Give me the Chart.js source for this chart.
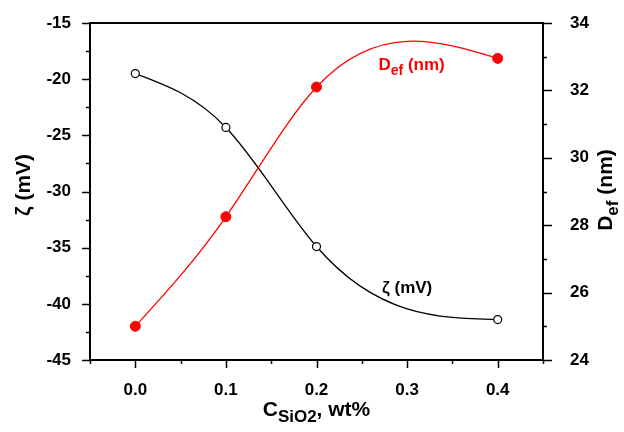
<!DOCTYPE html>
<html>
<head>
<meta charset="utf-8">
<script src="https://cdn.jsdelivr.net/npm/chart.js@4.4.1/dist/chart.umd.min.js"></script>
<style>
  html, body { margin: 0; padding: 0; background: #fff; }
  #wrap { width: 624px; height: 432px; }
</style>
</head>
<body>
<div id="wrap"><canvas id="zetaChart" width="624" height="432"></canvas></div>
<script>
// data
const conc = [0.0, 0.1, 0.2, 0.4];           // C_SiO2, wt%
const zeta = [-19.5, -24.3, -34.9, -41.4];   // zeta potential, mV
const dEf = [25.0, 28.25, 32.1, 32.95];      // effective diameter, nm

const FONT = "'Liberation Sans', Arial, sans-serif";

// draw text with subscripts: parts = [[text, isSub], ...]
function drawParts(ctx, parts, x, y, size, align) {
  const subSize = Math.round(size * 0.82);
  let total = 0;
  parts.forEach(([t, sub]) => {
    ctx.font = "bold " + (sub ? subSize : size) + "px " + FONT;
    total += ctx.measureText(t).width;
  });
  let cx = align === "center" ? x - total / 2 : x;
  ctx.textAlign = "left";
  ctx.textBaseline = "alphabetic";
  parts.forEach(([t, sub]) => {
    ctx.font = "bold " + (sub ? subSize : size) + "px " + FONT;
    ctx.fillText(t, cx, sub ? y + size * 0.28 : y);
    cx += ctx.measureText(t).width;
  });
}

// natural cubic spline through the dataset's points (pixel space, same as data space up to a linear map)
function splinePath(ctx, pts) {
  const n = pts.length - 1;
  const h = [], m = new Array(n + 1).fill(0);
  for (let i = 0; i < n; i++) h.push(pts[i + 1].x - pts[i].x);
  const a = [], b = [], c = [], r = [];
  for (let i = 1; i < n; i++) {
    a.push(h[i - 1]);
    b.push(2 * (h[i - 1] + h[i]));
    c.push(h[i]);
    r.push(6 * ((pts[i + 1].y - pts[i].y) / h[i] - (pts[i].y - pts[i - 1].y) / h[i - 1]));
  }
  // Thomas algorithm
  for (let i = 1; i < b.length; i++) {
    const w = a[i] / b[i - 1];
    b[i] -= w * c[i - 1];
    r[i] -= w * r[i - 1];
  }
  for (let i = b.length - 1; i >= 0; i--) {
    m[i + 1] = (r[i] - (i < b.length - 1 ? c[i] * m[i + 2] : 0)) / b[i];
  }
  ctx.moveTo(pts[0].x, pts[0].y);
  for (let i = 0; i < n; i++) {
    const s = (pts[i + 1].y - pts[i].y) / h[i];
    const d0 = s - h[i] * (2 * m[i] + m[i + 1]) / 6;
    const d1 = s + h[i] * (m[i] + 2 * m[i + 1]) / 6;
    ctx.bezierCurveTo(
      pts[i].x + h[i] / 3, pts[i].y + d0 * h[i] / 3,
      pts[i + 1].x - h[i] / 3, pts[i + 1].y - d1 * h[i] / 3,
      pts[i + 1].x, pts[i + 1].y);
  }
}

const splinePlugin = {
  id: "spline",
  beforeDatasetsDraw(chart) {
    const ctx = chart.ctx;
    ctx.save();
    chart.data.datasets.forEach((ds, i) => {
      const pts = chart.getDatasetMeta(i).data.map(p => ({ x: p.x, y: p.y }));
      ctx.beginPath();
      splinePath(ctx, pts);
      ctx.strokeStyle = ds.borderColor;
      ctx.lineWidth = 1.3;
      ctx.stroke();
    });
    ctx.restore();
  }
};

// tick marks, top frame line, titles and in-plot labels
const decorPlugin = {
  id: "decor",
  afterDraw(chart) {
    const ctx = chart.ctx;
    const a = chart.chartArea;
    const sx = chart.scales.x, sl = chart.scales.yL, sr = chart.scales.yR;
    ctx.save();
    ctx.strokeStyle = "#000";
    ctx.lineWidth = 2;
    ctx.beginPath();
    ctx.moveTo(a.left - 1, a.top);
    ctx.lineTo(a.right + 1, a.top);
    ctx.stroke();

    ctx.lineWidth = 1.5;
    ctx.beginPath();
    sx.ticks.forEach(t => {
      const px = Math.round(sx.getPixelForValue(t.value)) + 0.5;
      const major = Math.abs(t.value * 10 - Math.round(t.value * 10)) < 1e-6;
      ctx.moveTo(px, a.bottom);
      ctx.lineTo(px, a.bottom + (major ? 8 : 4));
    });
    sl.ticks.forEach(t => {
      const py = Math.round(sl.getPixelForValue(t.value)) + 0.5;
      const major = t.value % 5 === 0;
      ctx.moveTo(a.left, py);
      ctx.lineTo(a.left - (major ? 8 : 4), py);
    });
    sr.ticks.forEach(t => {
      const py = Math.round(sr.getPixelForValue(t.value)) + 0.5;
      const major = t.value % 2 === 0;
      ctx.moveTo(a.right, py);
      ctx.lineTo(a.right + (major ? 9 : 4), py);
    });
    ctx.stroke();

    // axis titles
    ctx.fillStyle = "#000";
    drawParts(ctx, [["C", false], ["SiO2", true], [", wt%", false]], (a.left + a.right) / 2, 416, 21, "center");

    ctx.save();
    ctx.translate(30, 185);
    ctx.rotate(-Math.PI / 2);
    drawParts(ctx, [["\u03B6 (mV)", false]], 0, 0, 21, "center");
    ctx.restore();

    ctx.save();
    ctx.translate(612, 190);
    ctx.rotate(-Math.PI / 2);
    drawParts(ctx, [["D", false], ["ef", true], [" (nm)", false]], 0, 0, 21, "center");
    ctx.restore();

    // curve labels, anchored in data coordinates
    ctx.fillStyle = "#ff0000";
    drawParts(ctx, [["D", false], ["ef", true], [" (nm)", false]],
      sx.getPixelForValue(0.305), sr.getPixelForValue(32.6), 17, "center");
    ctx.fillStyle = "#000";
    drawParts(ctx, [["\u03B6 (mV)", false]],
      sx.getPixelForValue(0.3), sl.getPixelForValue(-39.0), 17, "center");
    ctx.restore();
  }
};

const tickFont = { family: FONT, size: 17, weight: "bold" };

// fixed axis sizes so the plot box sits where the original has it
const fixY = w => s => { s.width = w; s.paddingTop = 0; s.paddingBottom = 0; };

new Chart(document.getElementById("zetaChart"), {
  type: "scatter",
  data: {
    datasets: [
      {
        label: "zeta",
        data: conc.map((c, i) => ({ x: c, y: zeta[i] })),
        yAxisID: "yL",
        showLine: false,
        borderColor: "#000",
        pointRadius: 4,
        pointBorderWidth: 1.2,
        pointBackgroundColor: "#fff",
        pointBorderColor: "#000",
      },
      {
        label: "Def",
        data: conc.map((c, i) => ({ x: c, y: dEf[i] })),
        yAxisID: "yR",
        showLine: false,
        borderColor: "#ff0000",
        pointRadius: 5,
        pointBorderWidth: 1,
        pointBackgroundColor: "#ff0000",
        pointBorderColor: "#ff0000",
      },
    ],
  },
  plugins: [splinePlugin, decorPlugin],
  options: {
    responsive: false,
    animation: false,
    layout: { padding: { top: 23, left: 0, right: 0, bottom: 0 } },
    plugins: { legend: { display: false }, tooltip: { enabled: false } },
    scales: {
      x: {
        type: "linear",
        min: -0.05,
        max: 0.45,
        afterFit: s => { s.height = 72; s.paddingLeft = 0; s.paddingRight = 0; },
        grid: { display: false },
        border: { display: true, color: "#000", width: 2 },
        ticks: {
          stepSize: 0.05,
          padding: 12,
          color: "#000",
          font: tickFont,
          callback: v => Math.abs(v * 10 - Math.round(v * 10)) < 1e-6 && v > -0.01 && v < 0.41 ? v.toFixed(1) : "",
        },
      },
      yL: {
        position: "left",
        min: -45,
        max: -15,
        afterFit: fixY(90),
        grid: { display: false },
        border: { display: true, color: "#000", width: 2 },
        ticks: {
          stepSize: 2.5,
          padding: 11,
          color: "#000",
          font: tickFont,
          callback: v => (v % 5 === 0 ? v : ""),
        },
      },
      yR: {
        position: "right",
        min: 24,
        max: 34,
        afterFit: fixY(81),
        grid: { display: false },
        border: { display: true, color: "#000", width: 2 },
        ticks: {
          stepSize: 1,
          padding: 19,
          color: "#000",
          font: tickFont,
          callback: v => (v % 2 === 0 ? v : ""),
        },
      },
    },
  },
});
</script>
</body>
</html>
